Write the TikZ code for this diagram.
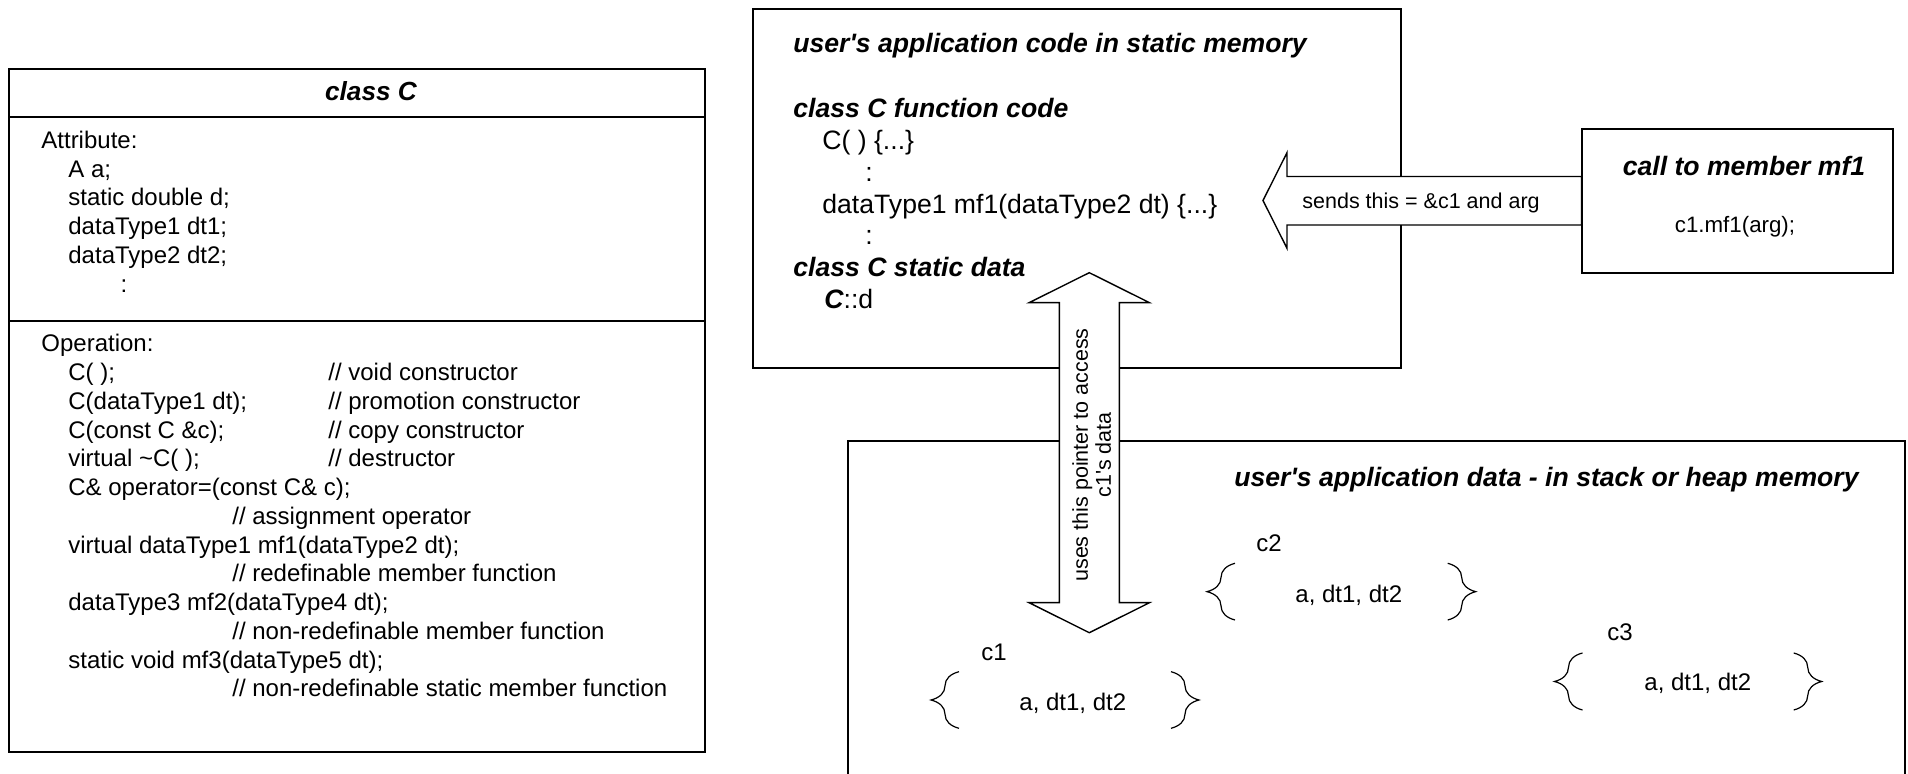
\documentclass[tikz,border=0pt]{standalone}
\usepackage{fontspec}
\setmainfont{Liberation Sans}
\usetikzlibrary{decorations.pathreplacing}
\begin{document}
\begin{tikzpicture}[x=0.5pt,y=-0.5pt,
  box/.style={draw=black,line width=1pt},
  blk/.style={draw=black,line width=0.7pt,fill=white,line join=miter},
  brc/.style={draw=black,line width=0.6pt,decorate,decoration={brace,amplitude=14pt}},
  cls/.style={anchor=base west,inner sep=0pt,font=\fontsize{12}{14.4}\selectfont},
  code/.style={anchor=base west,inner sep=0pt,font=\fontsize{13.3}{16}\selectfont},
  head/.style={anchor=base west,inner sep=0pt,font=\fontsize{13.3}{16}\selectfont\bfseries\itshape},
  lbl/.style={anchor=base west,inner sep=0pt,font=\fontsize{10.75}{11.5}\selectfont}]
\useasboundingbox (0,0) rectangle (1908,774);

% ---------- class C box ----------
\draw[box] (9,69.3) rectangle (704.5,751.7);
\draw[box] (9,116.7) -- (704.5,116.7);
\draw[box] (9,321) -- (704.5,321);
\node[head,anchor=base,font=\fontsize{13.1}{16}\selectfont\bfseries\itshape] (ctitle) at (371,100.7) {class C};

\node[cls] (attr) at (41,148.6) {Attribute:};
\node[cls] (aa)   at (68,177.3) {A a;};
\node[cls] (ad)   at (68,206.0) {static double d;};
\node[cls] (adt1) at (68,234.7) {dataType1 dt1;};
\node[cls] (adt2) at (68,263.4) {dataType2 dt2;};
\node[cls,anchor=base] (adots) at (124,292.1) {:};

\node[cls] (oper) at (41,351.9) {Operation:};
\node[cls] (o1)  at (68,380.65) {C( );};
\node[cls] (o1c) at (328,380.65) {// void constructor};
\node[cls] (o2)  at (68,409.4) {C(dataType1 dt);};
\node[cls] (o2c) at (328,409.4) {// promotion constructor};
\node[cls] (o3)  at (68,438.15) {C(const C \&c);};
\node[cls] (o3c) at (328,438.15) {// copy constructor};
\node[cls] (o4)  at (68,466.9) {virtual \textasciitilde C( );};
\node[cls] (o4c) at (328,466.9) {// destructor};
\node[cls] (o5)  at (68,495.65) {C\& operator=(const C\& c);};
\node[cls] (o5c) at (232,524.4) {// assignment operator};
\node[cls] (o6)  at (68,553.15) {virtual dataType1 mf1(dataType2 dt);};
\node[cls] (o6c) at (232,581.9) {// redefinable member function};
\node[cls] (o7)  at (68,610.65) {dataType3 mf2(dataType4 dt);};
\node[cls] (o7c) at (232,639.4) {// non-redefinable member function};
\node[cls] (o8)  at (68,668.15) {static void mf3(dataType5 dt);};
\node[cls] (o8c) at (232,696.9) {// non-redefinable static member function};

% ---------- static memory box ----------
\draw[box] (753,9) rectangle (1401,368);

% ---------- data box (runs off the bottom) ----------
\draw[box] (848,774) -- (848,441) -- (1905,441) -- (1905,774);

% ---------- block arrows ----------
\coordinate (ltip) at (1263,200.5);
\coordinate (lend) at (1581.5,200.5);
\draw[blk] (ltip) -- (1287,152.7) -- (1287,176.5) -- (1581.5,176.5)
   -- (1581.5,225) -- (1287,225) -- (1287,248.3) -- cycle;

\coordinate (utip) at (1089.3,272.7);
\coordinate (dtip) at (1089.3,632.7);
\draw[blk] (utip) -- (1149.5,302.7) -- (1119.3,302.7) -- (1119.3,602.7)
   -- (1149.5,602.7) -- (dtip) -- (1029.1,602.7) -- (1059.3,602.7)
   -- (1059.3,302.7) -- (1029.1,302.7) -- cycle;

% ---------- call box ----------
\draw[box] (1581.5,129.3) rectangle (1893,272.7);
\node[head,anchor=base] (calltitle) at (1744,175.5) {call to member mf1};
\node[cls,anchor=base,font=\fontsize{11.15}{13.4}\selectfont] (call) at (1735,232.7) {c1.mf1(arg);};

\node[lbl] (sends) at (1302,208.4) {sends this = \&c1 and arg};
\node[rotate=90,align=center,inner sep=0pt,font=\fontsize{10.75}{11.5}\selectfont] (uses)
   at (1091.7,455) {uses this pointer to access\\c1\textquotesingle s data};

% ---------- static memory texts ----------
\node[head] (apcode) at (793,52.8) {user\textquotesingle s application code in static memory};
\node[head] (fcode)  at (793,117.8) {class C function code};
\node[code] (f1)     at (822,149.6) {C( ) \{...\}};
\node[code,anchor=base] (fd1) at (869,181.4) {:};
\node[code] (f2)     at (822,213.2) {dataType1 mf1(dataType2 dt) \{...\}};
\node[code,anchor=base] (fd2) at (869,245) {:};
\node[head] (sdata)  at (793,276.8) {class C static data};
\node[code] (cd)     at (824,308.6) {{\bfseries\itshape C}::d};

% ---------- data box texts ----------
\node[head] (apdata) at (1234,486.2) {user\textquotesingle s application data - in stack or heap memory};

\node[cls] (c1l) at (981,660.3) {c1};
\node[cls] (c1v) at (1019,710.3) {a, dt1, dt2};
\draw[brc] (959,728.3) -- (959,671.7);
\draw[brc] (1171,671.7) -- (1171,728.3);

\node[cls] (c2l) at (1256,551.6) {c2};
\node[cls] (c2v) at (1295,602.6) {a, dt1, dt2};
\draw[brc] (1235,620) -- (1235,563.3);
\draw[brc] (1447.7,563.3) -- (1447.7,620);

\node[cls] (c3l) at (1607,640.3) {c3};
\node[cls] (c3v) at (1644,690.3) {a, dt1, dt2};
\draw[brc] (1582.5,710) -- (1582.5,653);
\draw[brc] (1793.7,653) -- (1793.7,710);
\end{tikzpicture}
\end{document}
